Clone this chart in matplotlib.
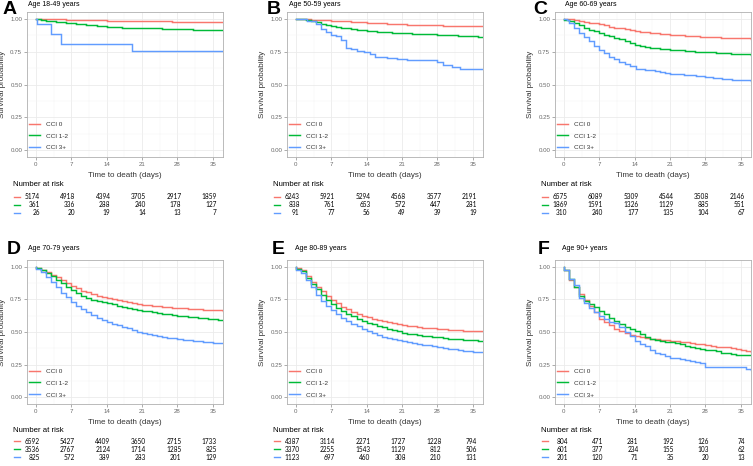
import matplotlib
matplotlib.use('Agg')
import matplotlib.pyplot as plt
from matplotlib.ticker import FixedLocator, FixedFormatter

# ---------------- data ----------------
DAYS = list(range(38))
GROUPS = ['CCI 0', 'CCI 1-2', 'CCI 3+']
COLORS = ['#F8766D', '#00BA38', '#619CFF']
PANELS = ['A', 'B', 'C', 'D', 'E', 'F']
TITLES = ['Age 18-49 years', 'Age 50-59 years', 'Age 60-69 years',
          'Age 70-79 years', 'Age 80-89 years', 'Age 90+ years']
RISK_TIMES = [0, 7, 14, 21, 28, 35]
Y_TICKS = [0.0, 0.25, 0.5, 0.75, 1.0]
Y_TICK_LABELS = ['0.00', '0.25', '0.50', '0.75', '1.00']

# Panel A
a_cci0 = [.999, .998, .997, .996, .995, .994, .993, .992, .991, .990, .989, .988, .987,
          .986, .985, .984, .983, .982, .982, .981, .980, .980, .979, .979, .978, .978,
          .978, .977, .977, .977, .977, .977, .977, .977, .977, .976, .976, .976]
a_cci12 = [.997, .990, .985, .980, .977, .972, .967, .963, .960, .957, .953, .948, .944,
           .941, .938, .936, .934, .932, .931, .930, .930, .929, .928, .927, .925, .922,
           .921, .921, .920, .919, .918, .917, .916, .914, .912, .911, .911, .911]
a_cci3_t = [0.3, 3, 5, 19, 37]
a_cci3 = [0.962, 0.885, 0.808, 0.755, 0.755]

# Panel B
b_cci0 = [.999, .997, .995, .993, .990, .988, .986, .984, .982, .980, .978, .976, .974,
          .972, .970, .968, .966, .964, .962, .960, .958, .957, .955, .954, .952, .951,
          .950, .949, .948, .947, .946, .945, .944, .944, .943, .943, .942, .942]
b_cci12 = [.998, .994, .990, .983, .972, .962, .953, .944, .937, .931, .926, .921, .916,
           .911, .907, .904, .901, .898, .895, .893, .891, .889, .887, .886, .884, .883,
           .881, .880, .878, .877, .875, .873, .871, .870, .868, .866, .864, .863]
b_cci3_t = [2.2, 4, 5, 6, 7, 8, 9, 10, 11, 12, 13.5, 14.6, 15.7, 18, 20, 22, 28, 29,
            30.8, 32.5, 37]
b_cci3 = [0.978, 0.956, 0.923, 0.901, 0.879, 0.868, 0.835, 0.780, 0.768, 0.756, 0.745,
          0.728, 0.712, 0.703, 0.695, 0.683, 0.667, 0.650, 0.635, 0.615, 0.615]

# Panel C
c_cci0 = [1.0, .997, .990, .985, .977, .970, .963, .956, .948, .940, .932, .925, .918,
          .912, .906, .901, .897, .893, .889, .886, .882, .879, .876, .873, .870, .868,
          .866, .864, .862, .860, .858, .856, .854, .852, .851, .850, .849, .848]
c_cci12 = [.993, .982, .965, .948, .932, .917, .903, .890, .878, .866, .855, .843, .829,
           .814, .801, .793, .786, .780, .775, .771, .768, .765, .762, .759, .756, .753,
           .750, .748, .746, .744, .741, .739, .737, .734, .732, .730, .728, .726]
c_cci3_t = [0.6, 1, 2, 3, 4, 5, 6, 7, 8, 9, 10, 11, 12, 13, 14.2, 16, 18, 19, 20, 21,
            23.7, 26.2, 28, 29.4, 31.3, 33.3, 37]
c_cci3 = [0.990, 0.965, 0.932, 0.894, 0.863, 0.830, 0.792, 0.762, 0.737, 0.711, 0.691,
          0.671, 0.653, 0.640, 0.620, 0.610, 0.602, 0.595, 0.585, 0.577, 0.570, 0.565,
          0.557, 0.550, 0.540, 0.534, 0.530]

# Panel D
d_cci0 = [.990, .975, .957, .938, .917, .896, .874, .853, .834, .817, .802, .789, .777,
          .767, .758, .749, .741, .734, .727, .720, .714, .709, .704, .700, .696, .692,
          .689, .686, .683, .680, .677, .675, .673, .671, .669, .667, .665, .663]
d_cci12 = [.990, .970, .948, .924, .898, .872, .845, .818, .795, .775, .758, .747, .738,
           .729, .720, .711, .702, .694, .686, .678, .671, .664, .657, .651, .645, .640,
           .635, .630, .625, .620, .616, .612, .608, .604, .600, .597, .594, .591]
d_cci3 = [.985, .955, .920, .885, .840, .800, .765, .730, .700, .675, .650, .627, .605,
          .590, .575, .562, .550, .538, .527, .515, .503, .493, .484, .476, .469, .463,
          .457, .451, .445, .440, .436, .432, .428, .425, .422, .419, .416, .413]

# Panel E
e_cci0 = [.990, .970, .925, .885, .845, .810, .775, .745, .718, .693, .672, .654, .638,
          .625, .613, .602, .592, .583, .574, .566, .560, .554, .548, .543, .538, .534,
          .530, .527, .524, .521, .518, .515, .513, .511, .509, .507, .506, .505]
e_cci12 = [.985, .965, .915, .870, .825, .785, .748, .715, .685, .660, .638, .620, .602,
           .586, .572, .559, .547, .536, .525, .515, .505, .495, .488, .482, .476, .471,
           .466, .462, .458, .454, .450, .447, .444, .441, .438, .436, .434, .432]
e_cci3 = [.975, .950, .895, .840, .785, .740, .700, .665, .635, .610, .585, .563, .543,
          .525, .505, .490, .477, .465, .455, .445, .437, .430, .423, .416, .410, .403,
          .397, .390, .384, .378, .372, .367, .362, .358, .354, .350, .347, .344]

# Panel F
f_cci0 = [.975, .900, .840, .790, .745, .700, .655, .600, .575, .550, .520, .505, .490,
          .480, .470, .460, .455, .450, .445, .440, .436, .432, .428, .424, .420, .415,
          .410, .405, .400, .392, .388, .385, .382, .377, .370, .362, .352, .345]
f_cci12 = [.975, .905, .840, .775, .740, .715, .690, .660, .635, .610, .585, .560, .540,
           .525, .505, .485, .465, .450, .440, .433, .426, .420, .413, .405, .396, .388,
           .380, .373, .366, .360, .352, .343, .336, .330, .327, .326, .326, .326]
f_cci3 = [.975, .905, .860, .760, .720, .685, .650, .620, .600, .580, .565, .535, .500,
          .470, .430, .410, .390, .360, .340, .330, .315, .300, .300, .290, .285, .280,
          .270, .260, .235, .235, .235, .235, .235, .235, .235, .235, .220, .210]

CURVES = [
    [(DAYS, a_cci0), (DAYS, a_cci12), (a_cci3_t, a_cci3)],
    [(DAYS, b_cci0), (DAYS, b_cci12), (b_cci3_t, b_cci3)],
    [(DAYS, c_cci0), (DAYS, c_cci12), (c_cci3_t, c_cci3)],
    [(DAYS, d_cci0), (DAYS, d_cci12), (DAYS, d_cci3)],
    [(DAYS, e_cci0), (DAYS, e_cci12), (DAYS, e_cci3)],
    [(DAYS, f_cci0), (DAYS, f_cci12), (DAYS, f_cci3)],
]

# Number at risk tables (rows: CCI 0, CCI 1-2, CCI 3+)
RISK = [
    [[5174, 4918, 4394, 3705, 2917, 1859], [361, 336, 288, 240, 178, 127], [26, 20, 19, 14, 13, 7]],
    [[6243, 5921, 5294, 4568, 3577, 2191], [838, 761, 653, 572, 447, 281], [91, 77, 56, 49, 39, 19]],
    [[6575, 6089, 5309, 4544, 3508, 2146], [1869, 1591, 1326, 1129, 885, 551], [310, 240, 177, 135, 104, 67]],
    [[6592, 5427, 4409, 3650, 2715, 1733], [3536, 2767, 2124, 1714, 1285, 825], [825, 572, 389, 283, 201, 129]],
    [[4387, 3114, 2271, 1727, 1228, 794], [3370, 2255, 1543, 1129, 812, 506], [1123, 697, 460, 308, 210, 131]],
    [[804, 471, 281, 192, 126, 74], [601, 377, 234, 155, 103, 62], [201, 120, 71, 35, 20, 13]],
]

# ---------------- layout (pixel positions) ----------------
W, H = 753, 466
COL_X = [(27, 223), (287, 483), (555, 751)]
ROW_Y = [(12, 157), (260, 404)]
RISK_Y = [(193, 217), (437, 461)]
RISK_HEAD_Y = [185, 430]
LETTER_XY = [(3, 1), (267, 1), (533, 1), (7, 241), (272, 241), (538, 241)]
TITLE_XY = [(28, 4), (289, 4), (565, 4), (28, 249), (295, 249), (562, 249)]
XLIM = (-1.75, 37)

plt.rcParams['font.family'] = ['Liberation Sans', 'DejaVu Sans']

fig = plt.figure(figsize=(W / 100, H / 100), dpi=100)


def px_axes(x0, y0, x1, y1):
    return fig.add_axes([x0 / W, 1 - y1 / H, (x1 - x0) / W, (y1 - y0) / H])


for i in range(6):
    row, col = divmod(i, 3)
    x0, x1 = COL_X[col]
    y0, y1 = ROW_Y[row]
    ax = px_axes(x0, y0, x1, y1)

    # Kaplan-Meier step curves
    for g in range(3):
        t, s = CURVES[i][g]
        ax.step([0] + list(t), [1.0] + list(s), where='post', color=COLORS[g],
                lw=1.05, label=GROUPS[g], solid_joinstyle='miter')

    ax.set_xlim(*XLIM)
    ax.set_ylim(-0.05, 1.05)
    ax.xaxis.set_major_locator(FixedLocator(RISK_TIMES))
    ax.xaxis.set_minor_locator(FixedLocator([3.5, 10.5, 17.5, 24.5, 31.5]))
    ax.yaxis.set_major_locator(FixedLocator(Y_TICKS))
    ax.yaxis.set_major_formatter(FixedFormatter(Y_TICK_LABELS))
    ax.yaxis.set_minor_locator(FixedLocator([0.125, 0.375, 0.625, 0.875]))
    ax.grid(True, which='major', color='#ebebeb', lw=0.6)
    ax.grid(True, which='minor', color='#f3f3f3', lw=0.35)
    ax.set_axisbelow(True)
    for sp in ax.spines.values():
        sp.set_color('#b0b0b0')
        sp.set_linewidth(0.6)
    ax.tick_params(which='major', length=2, width=0.5, color='#8a8a8a', pad=1.5,
                   labelsize=4.4, labelcolor='#6a6a6a')
    ax.tick_params(which='minor', length=0)

    ax.set_xlabel('Time to death (days)', fontsize=5.8, color='#333333')
    ax.set_ylabel('Survival probability', fontsize=5.8, color='#333333')
    ax.xaxis.set_label_coords(0.5, -0.105)
    ax.yaxis.set_label_coords(-0.108, 0.5)

    leg = ax.legend(loc='lower left', bbox_to_anchor=(0.012, 0.045), frameon=False,
                    fontsize=4.6, handlelength=1.7, handletextpad=0.9,
                    labelspacing=1.0, borderpad=0, borderaxespad=0)
    for txt in leg.get_texts():
        txt.set_color('#333333')

    # panel letter and title
    lx, ly = LETTER_XY[i]
    fig.text(lx / W, 1 - ly / H, PANELS[i], fontsize=14, fontweight='bold',
             ha='left', va='top')
    tx, ty = TITLE_XY[i]
    fig.text(tx / W, 1 - ty / H, TITLES[i], fontsize=5, ha='left', va='center')

    # number at risk table
    rx = px_axes(x0, RISK_Y[row][0], x1, RISK_Y[row][1])
    rx.set_xlim(*XLIM)
    rx.set_ylim(2.5, -0.5)
    rx.axis('off')
    for g in range(3):
        rx.plot([-0.068, -0.036], [g, g], color=COLORS[g], lw=1.0,
                transform=rx.get_yaxis_transform(), clip_on=False)
        for t, n in zip(RISK_TIMES, RISK[i][g]):
            rx.text(t + 0.75, g, str(n), fontsize=4.7, ha='right', va='center',
                    family=['Lato', 'DejaVu Sans'])
    fig.text((x0 - 14) / W, 1 - RISK_HEAD_Y[row] / H, 'Number at risk', fontsize=5.6,
             ha='left', va='center')

fig.savefig('out.png', dpi=100)
